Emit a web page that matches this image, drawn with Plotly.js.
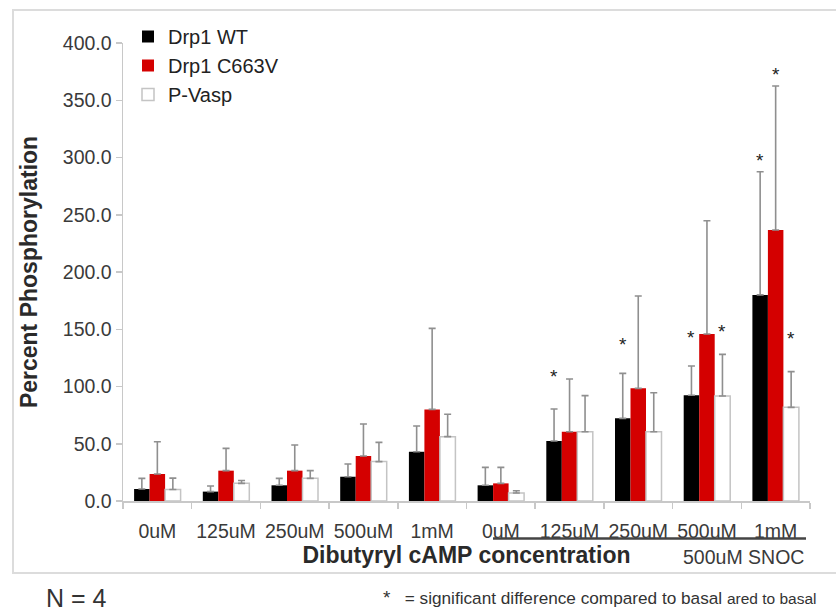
<!DOCTYPE html>
<html>
<head>
<meta charset="utf-8">
<script src="https://cdn.plot.ly/plotly-3.0.1.min.js"></script>
<style>html,body{margin:0;padding:0;background:#fff;}#chart{width:836px;height:612px;}</style>
</head>
<body>
<div id="chart"></div>
<script>
// ---- data ----
const categories = ["0uM","125uM","250uM","500uM","1mM","0uM","125uM","250uM","500uM","1mM"];
const seriesNames = ["Drp1 WT","Drp1 C663V","P-Vasp"];
const wtValues    = [10.5, 8.2, 13.7, 21.2, 43.0, 13.7, 52.4, 72.2, 92.3, 180.0];
const wtErrors    = [9.3, 4.9, 6.1, 11.1, 22.5, 15.7, 27.9, 39.3, 25.6, 107.6];
const c663vValues = [23.6, 26.5, 26.5, 39.3, 80.0, 15.4, 60.5, 98.4, 145.9, 236.7];
const c663vErrors = [28.2, 19.5, 22.4, 27.9, 70.8, 14.0, 46.0, 80.6, 98.9, 125.7];
const vaspValues  = [10.0, 15.4, 19.8, 34.4, 56.2, 7.0, 60.5, 60.5, 91.7, 81.8];
const vaspErrors  = [10.0, 2.5, 6.7, 16.8, 19.5, 2.0, 31.5, 34.1, 36.4, 31.2];
// significance stars: category index, series index, level of the star
const starCategory = [6, 7, 8, 8, 9, 9, 9];
const starSeries   = [0, 0, 0, 2, 0, 1, 2];
const starLevel    = [114, 141.5, 148, 153.7, 303, 377.3, 147];
const yTicks = [0, 50, 100, 150, 200, 250, 300, 350, 400];

// ---- chart ----
const xIdx = categories.map((c, i) => i);
const FONT = '"Liberation Sans", Arial, sans-serif';
const errStyle = {type: 'data', symmetric: false, arrayminus: categories.map(() => 0),
                  color: '#8f8f8f', thickness: 1.6, width: 3.5};

const mk = (name, vals, errs, color, lineColor, lineWidth) => ({
  type: 'bar', name: name, x: xIdx, y: vals,
  marker: {color: color, line: {color: lineColor, width: lineWidth}},
  error_y: Object.assign({}, errStyle, {array: errs}),
  hoverinfo: 'y'
});

const traces = [
  mk(seriesNames[0], wtValues, wtErrors, '#000000', '#000000', 0),
  mk(seriesNames[1], c663vValues, c663vErrors, '#d40000', '#d40000', 0),
  mk(seriesNames[2], vaspValues, vaspErrors, '#ffffff', '#c4c4c4', 1.5)
];

const plotL = 123, plotR = 810, plotT = 43, plotB = 501;
const pw = plotR - plotL, ph = plotB - plotT;
const px = (x) => (x - plotL) / pw;   // pixel -> paper x
const py = (y) => (plotB - y) / ph;   // pixel -> paper y

const barPx = 15.5;
const annotations = starCategory.map((c, k) => ({
  x: c, y: starLevel[k], xref: 'x', yref: 'y', text: '*', showarrow: false,
  xanchor: 'center', yanchor: 'middle',
  xshift: (starSeries[k] - 1) * barPx, yshift: -6,
  font: {family: FONT, size: 19, color: '#222'}
}));
annotations.push(
  {x: px(743), y: py(557), xref: 'paper', yref: 'paper', xanchor: 'center', yanchor: 'middle',
   text: '500uM SNOC', showarrow: false,
   font: {family: FONT, size: 19.5, color: '#3a3a3a'}},
  {x: px(76), y: py(598), xref: 'paper', yref: 'paper', xanchor: 'center', yanchor: 'middle',
   text: 'N = 4', showarrow: false,
   font: {family: FONT, size: 25, color: '#333'}},
  {x: px(381), y: py(597), xref: 'paper', yref: 'paper', xanchor: 'left', yanchor: 'middle', showarrow: false,
   text: '<span style="font-size:19px">*</span>   = significant difference compared to basal <span style="font-size:15.5px">ared to basal</span>',
   font: {family: FONT, size: 17.2, color: '#333'}}
);

const layout = {
  width: 836, height: 612,
  margin: {l: plotL, r: 836 - plotR, t: plotT, b: 612 - plotB, pad: 0},
  paper_bgcolor: '#ffffff', plot_bgcolor: '#ffffff',
  font: {family: FONT, color: '#333'},
  barmode: 'group', bargap: 0.323, bargroupgap: 0,
  showlegend: true,
  legend: {x: px(128), y: py(17), xanchor: 'left', yanchor: 'top',
           font: {family: FONT, size: 20, color: '#222'}, bgcolor: 'rgba(0,0,0,0)',
           traceorder: 'normal', tracegroupgap: 0},
  xaxis: {
    range: [-0.5, 9.5], tickmode: 'array', tickvals: xIdx, ticktext: categories,
    ticks: '', showgrid: false, zeroline: false, ticklabelstandoff: 12,
    showline: true, linecolor: '#c8c8c8', linewidth: 1.5,
    tickfont: {family: FONT, size: 19.5, color: '#3a3a3a'},
    minor: {tickmode: 'array', tickvals: [-0.5,0.5,1.5,2.5,3.5,4.5,5.5,6.5,7.5,8.5,9.5],
            ticks: 'outside', ticklen: 6, tickcolor: '#c8c8c8', tickwidth: 1.5, showgrid: false},
    title: {text: '<b>Dibutyryl cAMP concentration</b>', standoff: 1,
            font: {family: FONT, size: 23, color: '#2a2a2a'}}
  },
  yaxis: {
    range: [0, 400], tickmode: 'array', tickvals: yTicks, ticktext: yTicks.map(v => v.toFixed(1)),
    ticks: 'outside', ticklen: 6, tickcolor: '#c8c8c8', tickwidth: 1.5,
    showgrid: false, zeroline: false, showline: true, linecolor: '#c8c8c8', linewidth: 1.5,
    tickfont: {family: FONT, size: 19.5, color: '#3a3a3a'},
    title: {text: '<b>Percent Phosphorylation</b>', standoff: 18,
            font: {family: FONT, size: 23, color: '#2a2a2a'}}
  },
  shapes: [
    {type: 'rect', xref: 'paper', yref: 'paper', x0: px(13), x1: px(845), y0: py(573), y1: py(10),
     line: {color: '#dcdcdc', width: 2}, fillcolor: 'rgba(0,0,0,0)', layer: 'below'},
    {type: 'line', xref: 'paper', yref: 'paper', x0: px(493), x1: px(806), y0: py(538.5), y1: py(538.5),
     line: {color: '#444', width: 2.5}}
  ],
  annotations: annotations
};

Plotly.newPlot('chart', traces, layout, {displayModeBar: false, staticPlot: true});
</script>
</body>
</html>
